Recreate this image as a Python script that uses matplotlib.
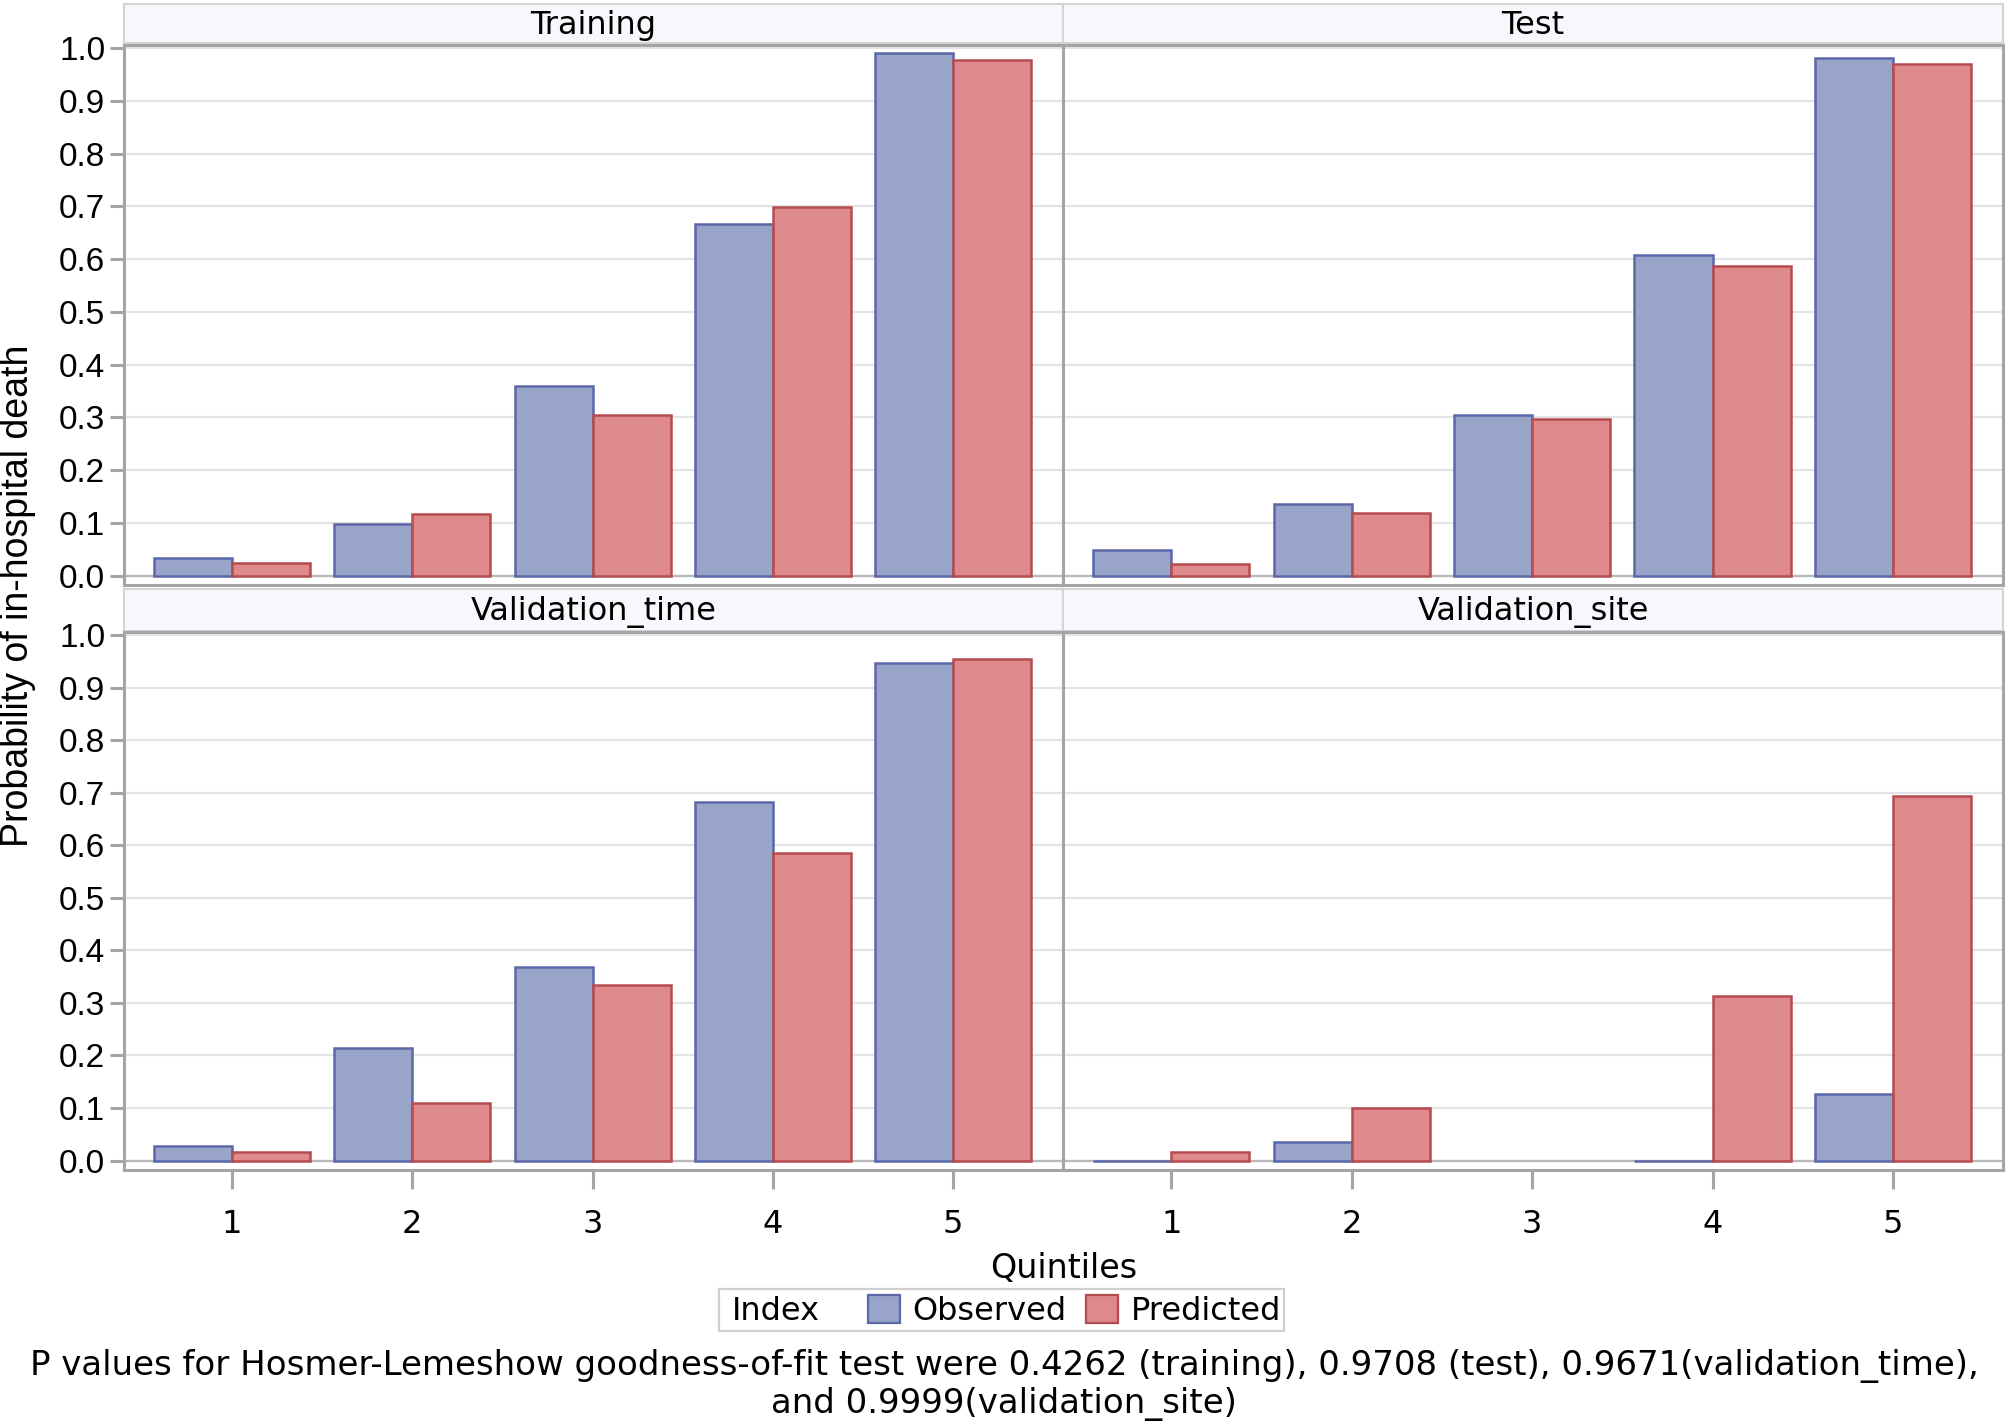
import numpy as np
import matplotlib
matplotlib.use("Agg")
import matplotlib.pyplot as plt
from matplotlib.patches import Patch, Rectangle

# data
quintiles = [1, 2, 3, 4, 5]
panels = ["Training", "Test", "Validation_time", "Validation_site"]
observed = {
    "Training": [0.034, 0.097, 0.360, 0.667, 0.990],
    "Test": [0.048, 0.136, 0.305, 0.607, 0.981],
    "Validation_time": [0.027, 0.214, 0.369, 0.682, 0.947],
    "Validation_site": [0.0, 0.035, np.nan, 0.0, 0.127],
}
predicted = {
    "Training": [0.024, 0.117, 0.304, 0.698, 0.978],
    "Test": [0.022, 0.118, 0.297, 0.587, 0.970],
    "Validation_time": [0.017, 0.109, 0.335, 0.585, 0.954],
    "Validation_site": [0.017, 0.100, np.nan, 0.314, 0.693],
}
yticks = np.round(np.arange(0, 1.01, 0.1), 1)
footnote = ("P values for Hosmer-Lemeshow goodness-of-fit test were 0.4262 (training), "
            "0.9708 (test), 0.9671(validation_time),\nand 0.9999(validation_site)")

OBS_FILL, OBS_EDGE = "#98a5c9", "#5b67a7"
PRED_FILL, PRED_EDGE = "#de8a8c", "#b64b4e"
FRAME = "#a2a6a9"
GRID = "#e4e4e4"
NARROW = ["DejaVu Sans"]
W, H = 2007, 1424

fig = plt.figure(figsize=(W / 100, H / 100), dpi=100)


def rect(x0, x1, ytop, ybot):
    return [x0 / W, 1 - ybot / H, (x1 - x0) / W, (ybot - ytop) / H]


cols = [(124, 1063), (1063, 2003)]
rows = [((4, 43), (45, 585)), ((589, 631), (632, 1170))]
bw = 0.433

for i, name in enumerate(panels):
    r, c = divmod(i, 2)
    x0, x1 = cols[c]
    (st, sb), (pt, pb) = rows[r]

    # strip header
    sax = fig.add_axes(rect(x0, x1, st, sb))
    sax.set_facecolor("#f7f8fc")
    sax.set_xticks([])
    sax.set_yticks([])
    for sp in sax.spines.values():
        sp.set_color("#d4d4d4")
        sp.set_linewidth(1.5)
    sax.text(0.5, 0.45, name, ha="center", va="center", fontsize=23,
             family=NARROW, transform=sax.transAxes)

    ax = fig.add_axes(rect(x0, x1, pt, pb))
    ax.set_axisbelow(True)
    ax.yaxis.grid(True, color=GRID, lw=1.6)
    ax.axhline(0, color="#b8b8b8", lw=1.6, zorder=1)
    x = np.array(quintiles, dtype=float)
    ax.bar(x - bw, observed[name], width=bw, align="edge", color=OBS_FILL,
           edgecolor=OBS_EDGE, lw=1.8, zorder=2)
    ax.bar(x, predicted[name], width=bw, align="edge", color=PRED_FILL,
           edgecolor=PRED_EDGE, lw=1.8, zorder=2)
    ax.set_xlim(0.4, 5.61)
    ax.set_ylim(-0.018, 1.006)
    ax.set_yticks(yticks)
    ax.set_xticks(quintiles)
    for sp in ax.spines.values():
        sp.set_color(FRAME)
        sp.set_linewidth(2.2)
    ax.tick_params(colors=FRAME, width=2.2, length=10, labelsize=24,
                   labelcolor="black")
    if c == 0:
        ax.set_yticklabels([f"{v:.1f}" for v in yticks], family="Liberation Sans")
    else:
        ax.tick_params(axis="y", left=False, labelleft=False)
    if r == 1:
        ax.set_xticklabels([str(q) for q in quintiles], family=NARROW)
        ax.tick_params(axis="x", length=14, pad=14, labelsize=23)
    else:
        ax.tick_params(axis="x", bottom=False, labelbottom=False)

fig.text(18 / W, 1 - 596 / H, "Probability of in-hospital death", rotation=90,
         ha="center", va="center", fontsize=27, family="Liberation Sans")
fig.text(1064 / W, 1 - 1268 / H, "Quintiles", ha="center", va="center",
         fontsize=24, family=NARROW)

# legend box with the "Index" label inside
fig.patches.append(Rectangle((719 / W, 1 - 1331 / H), (1284 - 719) / W, 42 / H,
                             transform=fig.transFigure, fill=False,
                             edgecolor="#cfcfcf", lw=1.6))
fig.text(732 / W, 1 - 1311 / H, "Index", ha="left", va="center", fontsize=23,
         family=NARROW)
handles = [Patch(facecolor=OBS_FILL, edgecolor=OBS_EDGE, lw=1.6),
           Patch(facecolor=PRED_FILL, edgecolor=PRED_EDGE, lw=1.6)]
fig.legend(handles, ["Observed", "Predicted"], ncol=2, frameon=False,
           loc="center left", bbox_to_anchor=(868 / W, 1 - 1311 / H),
           prop={"family": NARROW, "size": 23},
           handlelength=1.0, handleheight=1.0, handletextpad=0.4,
           columnspacing=0.6, borderpad=0, borderaxespad=0)

fig.text(1004 / W, 1 - 1385 / H, footnote, ha="center", va="center",
         fontsize=24.5, family=NARROW, linespacing=1.15)

fig.savefig("out.png", dpi=100)
